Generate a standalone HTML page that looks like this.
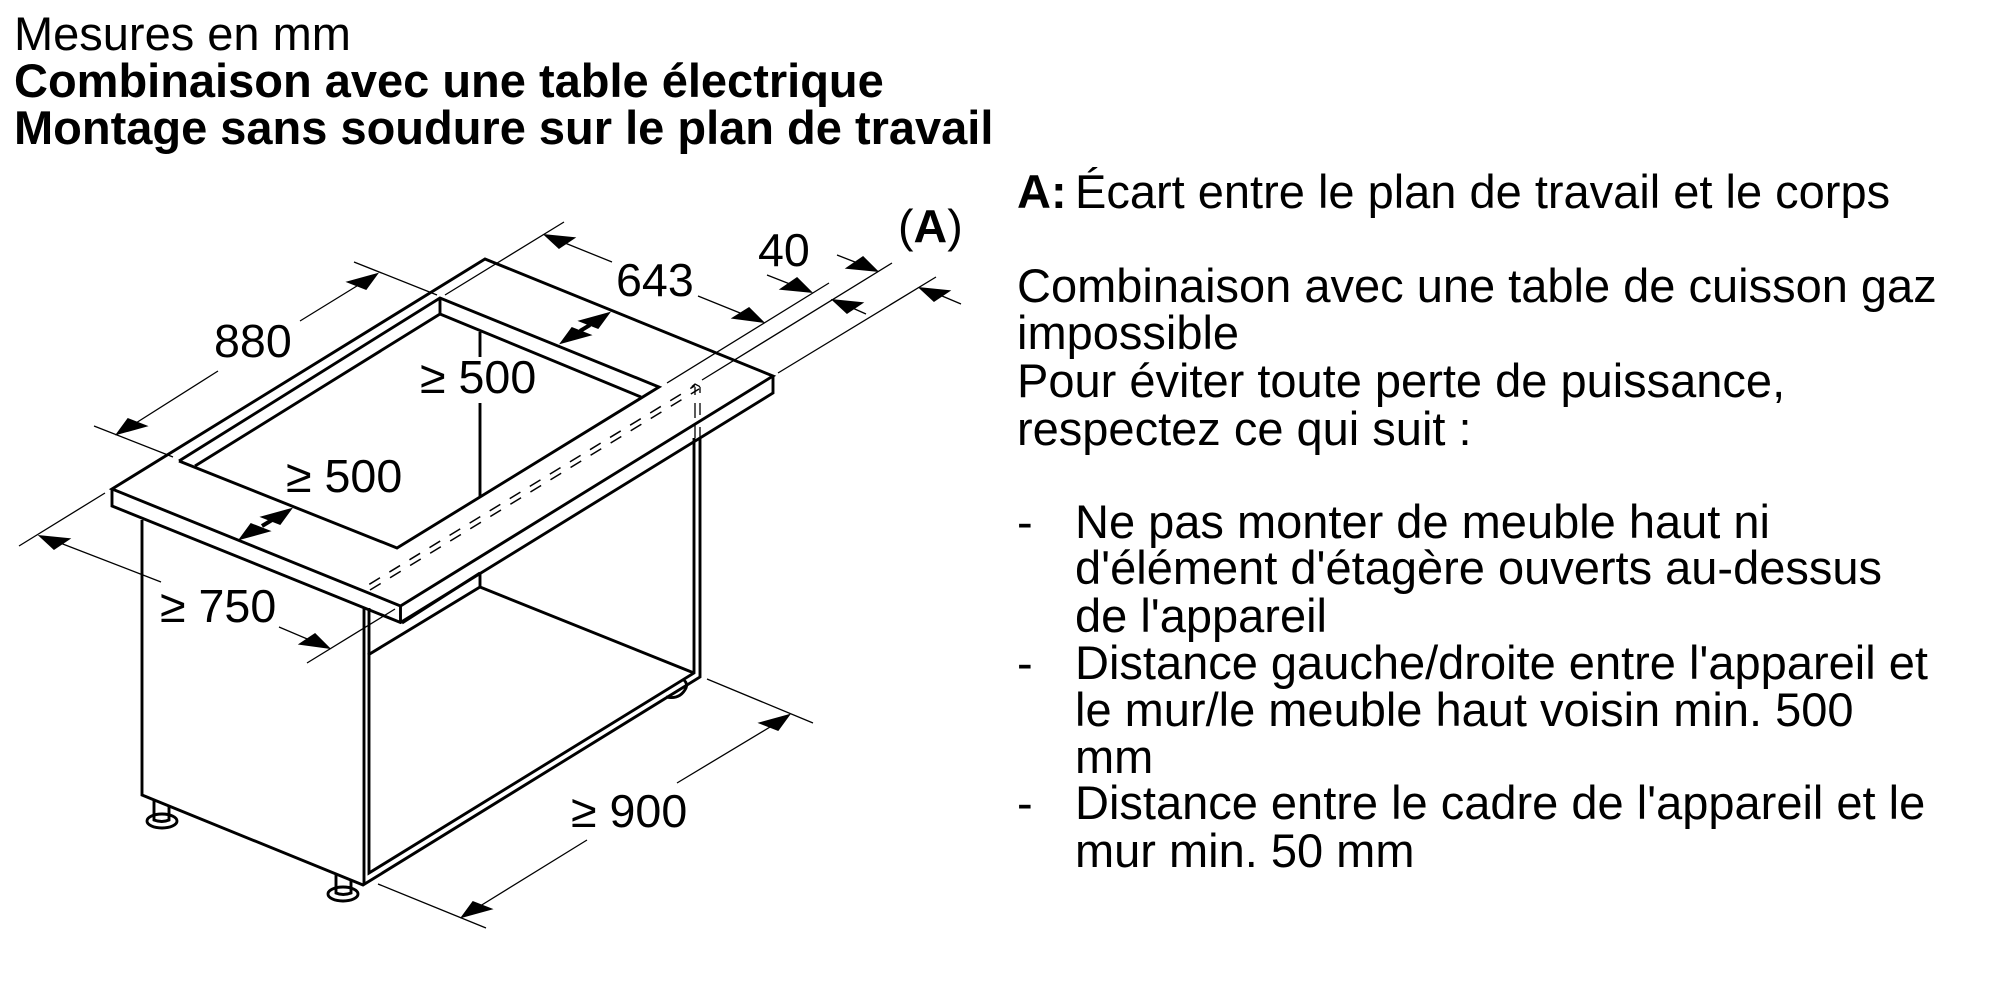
<!DOCTYPE html>
<html><head><meta charset="utf-8"><style>
html,body{margin:0;padding:0;background:#fff}
svg{display:block}
text{font-family:"Liberation Sans",sans-serif;font-size:47px;fill:#000}
.l{font-size:46.6px}
.b{font-weight:bold}
.m{fill:none;stroke:#000;stroke-width:2.9;stroke-linejoin:miter}
.t{fill:none;stroke:#000;stroke-width:1.3}
.d{fill:none;stroke:#000;stroke-width:1.5;stroke-dasharray:12.5 11}
</style></head><body>
<svg width="2000" height="1000" viewBox="0 0 2000 1000" xmlns="http://www.w3.org/2000/svg">
<rect width="2000" height="1000" fill="#fff"/>
<text x="14" y="50">Mesures en mm</text>
<text x="14" y="97" class="b">Combinaison avec une table électrique</text>
<text x="14" y="144" class="b">Montage sans soudure sur le plan de travail</text>

<text x="1017" y="208" class="b">A:</text><text x="1075" y="208">Écart entre le plan de travail et le corps</text>
<text x="1017" y="302">Combinaison avec une table de cuisson gaz</text>
<text x="1017" y="349">impossible</text>
<text x="1017" y="397">Pour éviter toute perte de puissance,</text>
<text x="1017" y="445">respectez ce qui suit :</text>
<text x="1017" y="538">-</text><text x="1075" y="538">Ne pas monter de meuble haut ni</text>
<text x="1075" y="584">d'élément d'étagère ouverts au-dessus</text>
<text x="1075" y="632">de l'appareil</text>
<text x="1017" y="679">-</text><text x="1075" y="679">Distance gauche/droite entre l'appareil et</text>
<text x="1075" y="726">le mur/le meuble haut voisin min. 500</text>
<text x="1075" y="773">mm</text>
<text x="1017" y="819">-</text><text x="1075" y="819">Distance entre le cadre de l'appareil et le</text>
<text x="1075" y="867">mur min. 50 mm</text>

<!-- countertop -->
<path class="m" d="M485 259L773 376L400.5 606L112 489Z"/>
<path class="m" d="M112 489V506L400.5 622.5L773 393V376M400.5 606V622.5"/>
<!-- cutout -->
<path class="m" d="M179 461L440 298L659 387L397 548L179 461"/>
<path class="m" d="M195 466L440 314L641 397M440 298V314"/>
<!-- cabinet -->
<path class="m" d="M480 332V357M480 403V497M480 573V587M402 623L480 573M368 655L480 587L694 673"/>
<path class="m" d="M142 520V795L363 885L700 677V438M364 608V885M369 608V873L694 673V438"/>
<!-- feet -->
<ellipse class="m" cx="162" cy="821" rx="15" ry="7"/>
<path class="m" d="M154 800V820Q162 823 169 820V806"/>
<ellipse class="m" cx="343" cy="894" rx="15" ry="7"/>
<path class="m" d="M336 875V893Q343 896 351 893V881"/>
<path class="m" d="M666 697Q680 700 686 688Q688 684 684 680"/>
<!-- hidden lines -->
<path class="d" d="M369.3 584.3L695 385.6"/>
<path class="d" d="M370 590L699 389"/>
<path class="t" d="M691.7 386.7L695 384L700 386.7M695 387V395M695 403V418M695 425V438M700 387V393M700 403V415M700 427V438"/>
<!-- extension lines -->
<path class="t" d="M354 262L437 295M94 426L173 457M564 222L445 295M829 283L667 383M892 263L702 380M936 277L778 373M105 493L19 546M395 609L307 663M707 679L813 723M378 884L486 928"/>
<!-- dimension lines -->
<path class="t" d="M300 321L365 281M218 371L128 428M612 262L560 241M698 296L745 315M837 255L860 264M767 275L795 286M961 304L935 293M866 314L848 306M161 582L55 541M279 627L312 641M677 783L775 724M587 840L472 911"/>
<path d="M262 526L272 520" fill="none" stroke="#000" stroke-width="4"/>
<path d="M580 331L590 325" fill="none" stroke="#000" stroke-width="4"/>
<!-- arrowheads (isometric) -->
<g fill="#000" stroke="#000" stroke-width="1.6" stroke-linejoin="miter">
<polygon points="377,274 348,282 366,289"/>
<polygon points="117,434 146,426 128,419"/>
<polygon points="789,715 760,723 778,730"/>
<polygon points="462,917 491,909 473,902"/>
<polygon points="291,509 262,517 280,524"/>
<polygon points="240,539 269,531 251,524"/>
<polygon points="609,313 580,321 598,328"/>
<polygon points="561,343 590,335 572,328"/>
<polygon points="763,322 733,318 749,308"/>
<polygon points="329,648 300,644 315,634"/>
<polygon points="877,271 847,268 863,257"/>
<polygon points="811,292 781,289 797,278"/>
<polygon points="545,235 559,248 574,238"/>
<polygon points="40,536 54,549 69,539"/>
<polygon points="920,288 934,301 949,291"/>
<polygon points="833,300 847,313 862,303"/>
</g>
<!-- labels -->
<text class="l" x="214" y="357">880</text>
<text class="l" x="616" y="296">643</text>
<text class="l" x="758" y="266">40</text>
<text class="l" x="898" y="242">(<tspan class="b">A</tspan>)</text>
<text class="l" x="420" y="393">≥ 500</text>
<text class="l" x="286" y="492">≥ 500</text>
<text class="l" x="160" y="622">≥ 750</text>
<text class="l" x="571" y="827">≥ 900</text>
</svg>
</body></html>
